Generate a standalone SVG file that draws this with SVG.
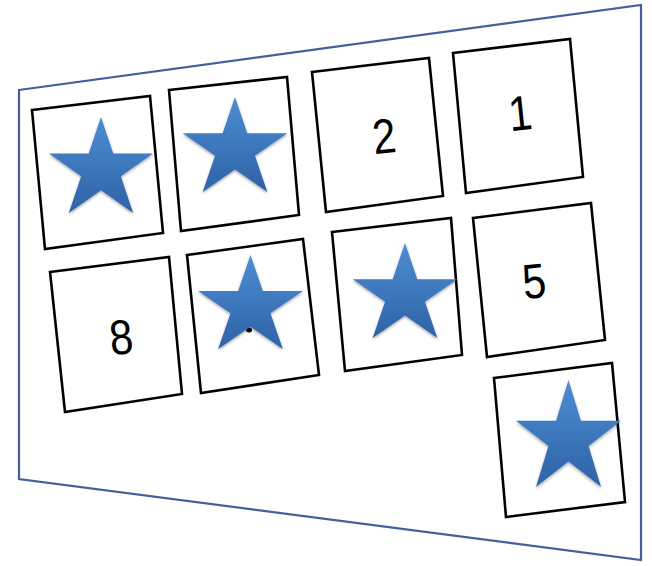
<svg xmlns="http://www.w3.org/2000/svg" width="652" height="566" viewBox="0 0 652 566">
  <defs>
    <linearGradient id="starGrad" x1="0" y1="0" x2="0" y2="1">
      <stop offset="0" stop-color="#4d8dd4"/>
      <stop offset="1" stop-color="#2e62a6"/>
    </linearGradient>
    <filter id="shadow" x="-20%" y="-20%" width="140%" height="150%">
      <feDropShadow dx="0" dy="3" stdDeviation="2.5" flood-color="#000" flood-opacity="0.35"/>
    </filter>
    <path id="star" d="M0,-100 L22.45,-30.9 L95.1,-30.9 L36.3,11.8 L58.8,80.9 L0,38.2 L-58.8,80.9 L-36.3,11.8 L-95.1,-30.9 L-22.45,-30.9 Z"/>
  </defs>
  <style>
    .frame { fill: #ffffff; stroke: #44609a; stroke-width: 2.2; }
    .card { fill: #ffffff; stroke: #000000; stroke-width: 2.6; stroke-linejoin: miter; }
    .num { font-family: "Liberation Sans", Arial, sans-serif; font-size: 49px; fill: #000000; text-anchor: middle; }
    .star { fill: url(#starGrad); filter: url(#shadow); }
  </style>
  <rect width="652" height="566" fill="#ffffff"/>
  <g id="frame">
    <polygon class="frame" points="19,90 641,5 641,560 19,479"/>
  </g>
  <g id="card-a">
    <polygon class="card" points="32,110 150,96 163,233 45,249"/>
    <use href="#star" class="star" transform="translate(101,170) scale(0.547,0.53)"/>
  </g>
  <g id="card-b">
    <polygon class="card" points="169,90 287,77 299,215 181,231"/>
    <use href="#star" class="star" transform="translate(235,149.5) scale(0.55,0.525)"/>
  </g>
  <g id="card-2">
    <polygon class="card" points="312,72 429,58 443,196 326,212"/>
    <text class="num" transform="rotate(-6 384 136) translate(384 153) scale(0.86 1)">2</text>
  </g>
  <g id="card-1">
    <polygon class="card" points="453,53 570,39 583,177 466,193"/>
    <text class="num" transform="rotate(-6 520 113) translate(520 130) scale(0.86 1)">1</text>
  </g>
  <g id="card-8">
    <polygon class="card" points="50,272 169,257 182,394 65,412"/>
    <text class="num" transform="rotate(-6 121 337) translate(121 354) scale(0.86 1)">8</text>
  </g>
  <g id="card-f">
    <polygon class="card" points="187,255 303,239 319,375 201,393"/>
    <ellipse cx="249" cy="330" rx="3" ry="2.5" fill="#000"/>
    <use href="#star" class="star" transform="translate(250.5,307) scale(0.55,0.52)"/>
  </g>
  <g id="card-g">
    <polygon class="card" points="332,232 451,218 462,355 345,371"/>
    <use href="#star" class="star" transform="translate(405,295.5) scale(0.55,0.525)"/>
  </g>
  <g id="card-5">
    <polygon class="card" points="473,218 591,203 605,340 487,357"/>
    <text class="num" transform="rotate(-6 534 281) translate(534 298) scale(0.86 1)">5</text>
  </g>
  <g id="card-i">
    <polygon class="card" points="494,378 612,363 625,502 506,517"/>
    <use href="#star" class="star" transform="translate(568.5,439) scale(0.552,0.59)"/>
  </g>
  <g id="connectors"></g>
</svg>
